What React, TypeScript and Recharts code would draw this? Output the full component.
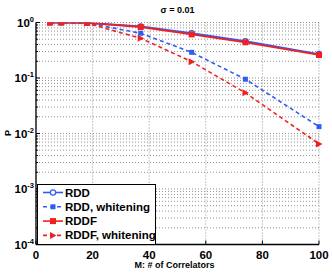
import React from 'react';
import { LineChart, Line, XAxis, YAxis, CartesianGrid, Legend, Label } from 'recharts';

const M = [5, 9, 18, 37, 55, 74, 100];
const rdd = [1, 1, 0.99, 0.85, 0.64, 0.46, 0.27];
const rddWhite = [1, 1, 0.98, 0.64, 0.29, 0.095, 0.0133];
const rddf = [1, 1, 0.985, 0.83, 0.61, 0.44, 0.26];
const rddfWhite = [1, 1, 0.97, 0.52, 0.197, 0.054, 0.0065];

const seriesNames = ['RDD', 'RDD, whitening', 'RDDF', 'RDDF, whitening'];
const chartTitle = 'σ = 0.01';
const xLabel = 'M: # of Correlators';
const yLabel = 'P';
const xTicks = [0, 20, 40, 60, 80, 100];
const yMajor = [1e-4, 1e-3, 1e-2, 1e-1, 1];
const minorMult = [2, 3, 4, 5, 6, 7, 8, 9];
const yTicks: number[] = [];
yMajor.forEach((d, i) => {
  yTicks.push(d);
  if (i < yMajor.length - 1) minorMult.forEach((k) => yTicks.push(k * d));
});

const data = M.map((m, i) => ({
  m,
  rdd: rdd[i],
  rddW: rddWhite[i],
  rddf: rddf[i],
  rddfW: rddfWhite[i],
}));

const BLUE = '#2f5cf5';
const RED = '#f02020';
const FONT = '"Liberation Sans", Arial, Helvetica, sans-serif';

const isMajor = (v: number) => yMajor.some((d) => Math.abs(v - d) / d < 1e-6);

const circleDot = (p: any) => (
  <circle key={`c${p.index}`} cx={p.cx} cy={p.cy} r={2.6} fill="#fff" stroke={BLUE} strokeWidth={1.2} />
);
const bSquare = (p: any) => (
  <rect key={`bs${p.index}`} x={p.cx - 2.5} y={p.cy - 2.5} width={5} height={5} fill={BLUE} />
);
const rSquare = (p: any) => (
  <rect key={`rs${p.index}`} x={p.cx - 3} y={p.cy - 3} width={6} height={6} fill={RED} />
);
const rTri = (p: any) => (
  <path
    key={`rt${p.index}`}
    d={`M${p.cx - 3},${p.cy - 3.5} L${p.cx + 3.5},${p.cy} L${p.cx - 3},${p.cy + 3.5} Z`}
    fill={RED}
  />
);

const XTickBottom = (p: any) => (
  <g>
    <line x1={p.x} x2={p.x} y1={p.y} y2={p.y - 4} stroke="#000" />
    <text x={p.x} y={p.y + 14.5} textAnchor="middle" fontSize={11.5} fontWeight="bold" fontFamily={FONT} fill="#000">
      {p.payload.value}
    </text>
  </g>
);
const XTickTop = (p: any) => (
  <line x1={p.x} x2={p.x} y1={p.y} y2={p.y + 4} stroke="#000" />
);
const YTickLeft = (p: any) => {
  const v = p.payload.value;
  const major = isMajor(v);
  const exp = Math.round(Math.log10(v));
  return (
    <g>
      <line x1={p.x} x2={p.x + (major ? 4 : 2)} y1={p.y} y2={p.y} stroke="#000" />
      {major && (
        <text x={p.x - 2} y={p.y + 4} textAnchor="end" fontSize={11.5} fontWeight="bold" fontFamily={FONT} fill="#000">
          <tspan>10</tspan>
          <tspan dy={-5} fontSize={7.5}>{String(exp)}</tspan>
        </text>
      )}
    </g>
  );
};
const YTickRight = (p: any) => {
  const major = isMajor(p.payload.value);
  return <line x1={p.x} x2={p.x - (major ? 4 : 2)} y1={p.y} y2={p.y} stroke="#000" />;
};

const legendItems = [
  { name: seriesNames[0], color: BLUE, dash: undefined, marker: 'circle' },
  { name: seriesNames[1], color: BLUE, dash: '4 3', marker: 'bsquare' },
  { name: seriesNames[2], color: RED, dash: undefined, marker: 'rsquare' },
  { name: seriesNames[3], color: RED, dash: '4 3', marker: 'tri' },
];

const LegendBox = () => (
  <svg width={119} height={61} style={{ display: 'block' }}>
    <rect x={0.5} y={0.5} width={118} height={60} fill="#fff" stroke="#000" strokeWidth={1} />
    {legendItems.map((it, i) => {
      const cy = 8.5 + i * 14.3;
      const cx = 16;
      let mk: any = null;
      if (it.marker === 'circle') mk = circleDot({ cx, cy, index: i });
      if (it.marker === 'bsquare') mk = bSquare({ cx, cy, index: i });
      if (it.marker === 'rsquare') mk = rSquare({ cx, cy, index: i });
      if (it.marker === 'tri') mk = rTri({ cx, cy, index: i });
      return (
        <g key={it.name}>
          <line x1={6} x2={26} y1={cy} y2={cy} stroke={it.color} strokeWidth={1.6} strokeDasharray={it.dash} />
          {mk}
          <text x={28} y={cy + 4} fontSize={11.5} fontWeight="bold" fontFamily={FONT} fill="#000">
            {it.name}
          </text>
        </g>
      );
    })}
  </svg>
);

export default function App() {
  return (
    <div style={{ position: 'absolute', left: 0, top: 0, background: '#fff' }}>
      <LineChart width={332} height={274} data={data} margin={{ top: 22.5, right: 13, bottom: 0, left: 0 }}>
        <CartesianGrid stroke="#777" strokeDasharray="1 2" strokeWidth={0.8} />
        <XAxis
          dataKey="m"
          type="number"
          domain={[0, 100]}
          ticks={xTicks}
          interval={0}
          height={29.5}
          tickSize={0}
          tickMargin={0}
          tick={XTickBottom}
          axisLine={{ stroke: '#000', strokeWidth: 1.3 }}
          tickLine={false}
        >
          <Label
            content={(props: any) => {
              const vb = props.viewBox;
              return (
                <text x={vb.x + vb.width / 2 - 3} y={268} textAnchor="middle" fontSize={9} fontWeight="bold" fontFamily={FONT} fill="#000">
                  {xLabel}
                </text>
              );
            }}
          />
        </XAxis>
        <XAxis
          xAxisId="t"
          orientation="top"
          dataKey="m"
          type="number"
          domain={[0, 100]}
          ticks={xTicks}
          interval={0}
          height={0}
          tickSize={0}
          tickMargin={0}
          tick={XTickTop}
          axisLine={{ stroke: '#000', strokeWidth: 1.3 }}
          tickLine={false}
        />
        <YAxis
          scale="log"
          domain={[1e-4, 1]}
          allowDataOverflow
          ticks={yTicks}
          interval={0}
          width={36}
          tickSize={0}
          tickMargin={0}
          tick={YTickLeft}
          axisLine={{ stroke: '#000', strokeWidth: 1.3 }}
          tickLine={false}
        >
          <Label
            content={() => (
              <g>
                <text x={11} y={133} transform="rotate(-90, 11, 133)" textAnchor="middle" fontSize={9} fontWeight="bold" fontFamily={FONT} fill="#000">
                  {yLabel}
                </text>
                <text x={177.5} y={13} textAnchor="middle" fontSize={9} fontWeight="bold" fontFamily={FONT} fill="#000">
                  {chartTitle}
                </text>
              </g>
            )}
          />
        </YAxis>
        <YAxis
          yAxisId="r"
          orientation="right"
          scale="log"
          domain={[1e-4, 1]}
          allowDataOverflow
          ticks={yTicks}
          interval={0}
          width={0}
          tickSize={0}
          tickMargin={0}
          tick={YTickRight}
          axisLine={{ stroke: '#000', strokeWidth: 1.3 }}
          tickLine={false}
        />
        <Line dataKey="rdd" name={seriesNames[0]} stroke={BLUE} strokeWidth={1.8} dot={circleDot} isAnimationActive={false} />
        <Line dataKey="rddW" name={seriesNames[1]} stroke={BLUE} strokeWidth={1.6} strokeDasharray="4 3" dot={bSquare} isAnimationActive={false} />
        <Line dataKey="rddf" name={seriesNames[2]} stroke={RED} strokeWidth={1.8} dot={rSquare} isAnimationActive={false} />
        <Line dataKey="rddfW" name={seriesNames[3]} stroke={RED} strokeWidth={1.6} strokeDasharray="4 3" dot={rTri} isAnimationActive={false} />
        <Legend
          layout="vertical"
          align="center"
          verticalAlign="middle"
          content={() => <LegendBox />}
          wrapperStyle={{ left: 36.5, top: 184, width: 119, height: 61 }}
        />
      </LineChart>
    </div>
  );
}
